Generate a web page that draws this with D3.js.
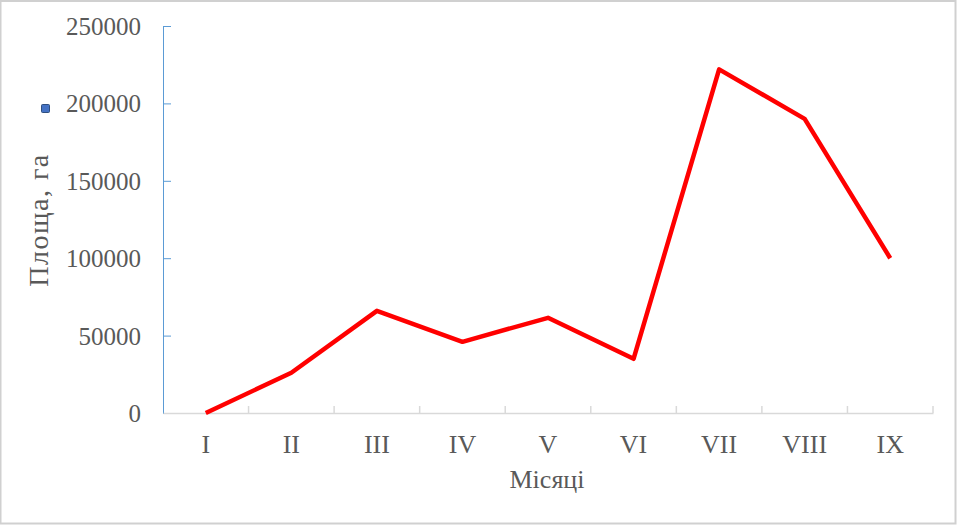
<!DOCTYPE html>
<html lang="uk">
<head>
  <meta charset="utf-8">
  <title>Площа по місяцях</title>
  <script src="https://cdnjs.cloudflare.com/ajax/libs/d3/7.8.5/d3.min.js"></script>
  <style>
  body { margin: 0; background: #fff; }
  #chart { display: block; }
  .tick text { font-family: 'Liberation Serif', 'Times New Roman', serif; fill: #595959; }
  </style>
</head>
<body>
  <svg id="chart"></svg>
  <script>
  // дані
  var months = ["I", "II", "III", "IV", "V", "VI", "VII", "VIII", "IX"];
  var area = [0, 26000, 66000, 46000, 61500, 35000, 222000, 190000, 100000];
  var yTicks = [0, 50000, 100000, 150000, 200000, 250000];

  var w = 960, h = 526;
  var mLeft = 163, mRight = 933, mTop = 26, mBottom = 413;

  var svg = d3.select("#chart").attr("width", w).attr("height", h);

  // рамка
  svg.append("rect")
    .attr("x", 0.5).attr("y", 1)
    .attr("width", w - 5).attr("height", h - 3.5)
    .attr("fill", "none")
    .attr("stroke", "#d0d0d0")
    .attr("stroke-width", 2);

  var x = d3.scaleBand().domain(months).range([mLeft, mRight]).padding(0);
  var y = d3.scaleLinear().domain([0, 250000]).range([mBottom, mTop]);

  // вісь Y
  var yAxis = svg.append("g")
    .attr("transform", "translate(" + mLeft + ",0)")
    .call(d3.axisRight(y).tickValues(yTicks).tickSize(8).tickFormat(d3.format("d")));
  yAxis.select(".domain").attr("stroke", "#5b9bd5").attr("d", "M0.5," + mTop + "V" + mBottom);
  yAxis.selectAll(".tick line").attr("stroke", "#5b9bd5");
  yAxis.selectAll(".tick text")
    .attr("x", -22)
    .attr("dy", "0.34em")
    .attr("text-anchor", "end")
    .style("font-size", "25px");

  // вісь X
  var xAxis = svg.append("g")
    .attr("transform", "translate(0," + mBottom + ")")
    .call(d3.axisBottom(x).tickSize(0));
  xAxis.select(".domain").attr("stroke", "#d9d9d9").attr("stroke-width", 1.5);
  xAxis.selectAll(".tick text")
    .attr("y", 40)
    .attr("dy", 0)
    .style("font-size", "26px");

  // поділки між категоріями
  var bounds = months.map(function(m) { return x(m); }).concat([mRight]).slice(1);
  svg.append("g").selectAll("line")
    .data(bounds)
    .enter()
    .append("line")
    .attr("x1", function(d) { return d; })
    .attr("x2", function(d) { return d; })
    .attr("y1", mBottom - 7)
    .attr("y2", mBottom)
    .attr("stroke", "#d9d9d9")
    .attr("stroke-width", 1.5);

  // лінія
  var line = d3.line()
    .x(function(d, i) { return x(months[i]) + x.bandwidth() / 2; })
    .y(function(d) { return y(d); });

  svg.append("path")
    .datum(area)
    .attr("d", line)
    .attr("fill", "none")
    .attr("stroke", "#ff0000")
    .attr("stroke-width", 4.5)
    .attr("stroke-linejoin", "round");

  // маркер легенди
  svg.append("rect")
    .attr("x", 41.5).attr("y", 104.5)
    .attr("width", 8).attr("height", 8)
    .attr("rx", 1)
    .attr("fill", "#4472c4")
    .attr("stroke", "#2f4f7f");

  // підписи осей
  svg.append("text")
    .attr("transform", "translate(48,220) rotate(-90)")
    .attr("text-anchor", "middle")
    .style("font-family", "'Liberation Serif', 'Times New Roman', serif")
    .style("font-size", "28px")
    .style("letter-spacing", "1.5px")
    .style("fill", "#595959")
    .text("Площа, га");

  svg.append("text")
    .attr("x", 547).attr("y", 488)
    .attr("text-anchor", "middle")
    .style("font-family", "'Liberation Serif', 'Times New Roman', serif")
    .style("font-size", "26px")
    .style("fill", "#595959")
    .text("Місяці");
  </script>
</body>
</html>
